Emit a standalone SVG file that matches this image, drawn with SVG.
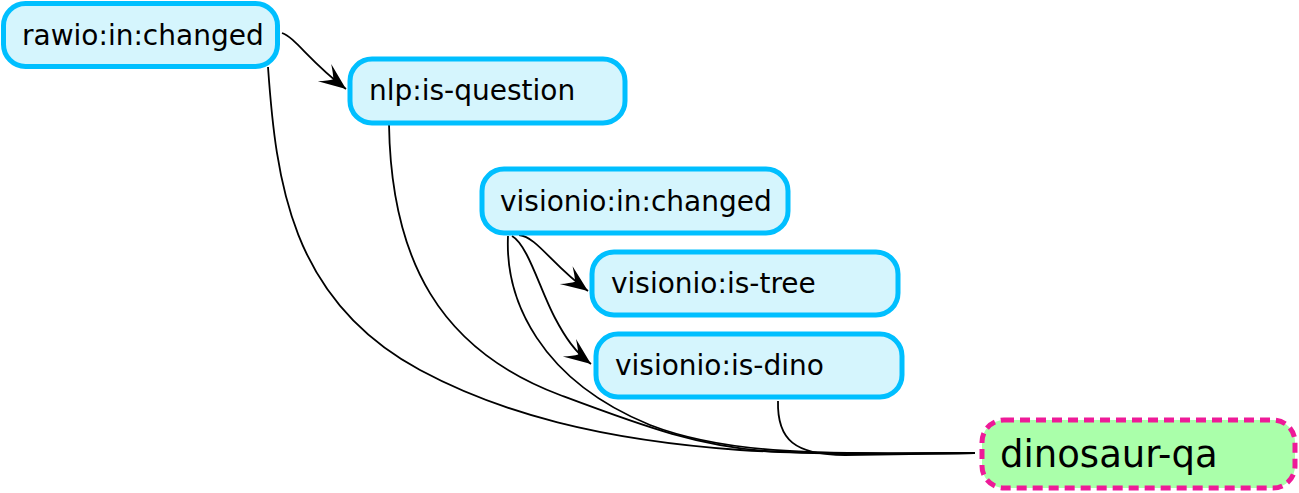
<svg xmlns="http://www.w3.org/2000/svg" width="1299" height="493" viewBox="0 0 1299 493">
<style>
.n rect{fill:#d5f5fd;stroke:#00bfff;stroke-width:5}
.n text{font-family:"DejaVu Sans",sans-serif;font-size:28px;fill:#000}
.goal rect{fill:#aaffaa;stroke:#ee1a98;stroke-width:5;stroke-dasharray:10,6}
.goal text{font-family:"DejaVu Sans",sans-serif;font-size:37px;fill:#000}
.e{fill:none;stroke:#000;stroke-width:1.8}
</style>
<defs>
<marker id="ah" markerUnits="userSpaceOnUse" markerWidth="40" markerHeight="30" refX="30" refY="12" orient="auto" viewBox="0 0 40 24" overflow="visible">
<path d="M30,12 L3,1 Q11,8 14,12 Q11,16 3,23 Z" fill="#000"/>
</marker>
</defs>
<g id="connectors">
<path class="e" d="M282,33 C296,38 308,60 346,89" marker-end="url(#ah)"/>
<path class="e" d="M268,67 C276,180 290,300 420,370 C500,413 600,440 740,450 C820,455 900,453 975,453"/>
<path class="e" d="M389,124 C391,260 440,350 560,395 C640,425 700,448 780,452 C860,455 920,453 975,453"/>
<path class="e" d="M508,236 C505,300 540,380 650,425 C720,452 800,455 975,453"/>
<path class="e" d="M519,235 C537,237 552,265 588,291" marker-end="url(#ah)"/>
<path class="e" d="M512,236 C528,245 540,290 555,318 C565,337 575,352 591,364" marker-end="url(#ah)"/>
<path class="e" d="M778,401 C777,440 795,455 845,455 L975,453"/>
</g>
<g id="rawio-in-changed" class="n"><rect x="3.5" y="3.5" width="274" height="63" rx="22"/><text x="22" y="45">rawio:in:changed</text></g>
<g id="nlp-is-question" class="n"><rect x="350" y="59" width="275" height="64" rx="22"/><text x="369" y="100">nlp:is-question</text></g>
<g id="visionio-in-changed" class="n"><rect x="482" y="169" width="306" height="64" rx="22"/><text x="500" y="211">visionio:in:changed</text></g>
<g id="visionio-is-tree" class="n"><rect x="592" y="252" width="306" height="63" rx="22"/><text x="611" y="293">visionio:is-tree</text></g>
<g id="visionio-is-dino" class="n"><rect x="596" y="334" width="306" height="63" rx="22"/><text x="615" y="375">visionio:is-dino</text></g>
<g id="dinosaur-qa" class="goal"><rect x="982" y="420" width="313" height="68" rx="22"/><text x="1000" y="467">dinosaur-qa</text></g>
</svg>
